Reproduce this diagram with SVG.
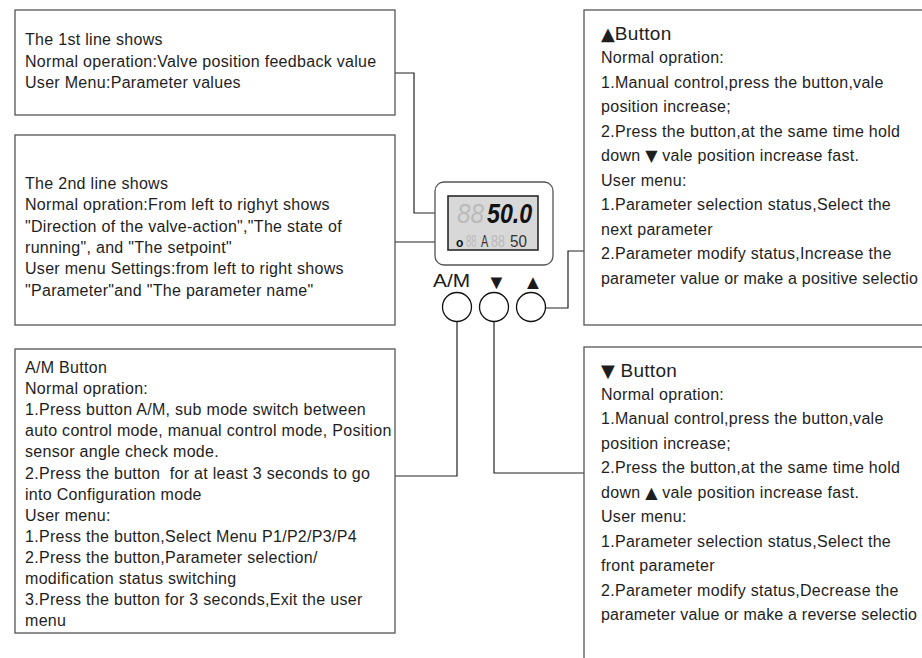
<svg xmlns="http://www.w3.org/2000/svg" width="922" height="658" viewBox="0 0 922 658">
  <style>
    .box{fill:#fff;stroke:#555;stroke-width:1.3}
    .t{font-family:"Liberation Sans",Arial,"DejaVu Sans",sans-serif;font-size:16px;letter-spacing:0.3px;fill:#1e1e1e}
    .h{font-size:19px;letter-spacing:0.3px}
    .sym{font-family:"DejaVu Sans",sans-serif;letter-spacing:0}
    .wire{fill:none;stroke:#222;stroke-width:1.2}
    .btn{fill:#fff;stroke:#111;stroke-width:1.3}
    .lbl{font-family:"Liberation Sans",Arial,"DejaVu Sans",sans-serif;fill:#1a1a1a}
    .seg{font-family:"Liberation Sans",Arial,sans-serif}
    .off{fill:#bababa}
    .on{fill:#111}
    .dim{fill:#333}
  </style>

  <rect width="922" height="658" fill="#fff"/>

  <!-- connectors -->
  <g id="connectors" class="wire">
    <polyline points="395,73 414,73 414,213 435,213"/>
    <line x1="395" y1="242" x2="435" y2="242"/>
    <polyline points="545.5,308 568,308 568,251 584,251"/>
    <polyline points="457,321.5 457,476 395,476"/>
    <polyline points="494,321.5 494,473 584,473"/>
  </g>

  <!-- first display line -->
  <g id="line1-note">
    <rect class="box" x="15" y="10" width="380" height="105"/>
    <text class="t">
      <tspan x="25" y="45">The 1st line shows</tspan>
      <tspan x="25" y="66.5">Normal operation:Valve position feedback value</tspan>
      <tspan x="25" y="88">User Menu:Parameter values</tspan>
    </text>
  </g>

  <!-- second display line -->
  <g id="line2-note">
    <rect class="box" x="15" y="135" width="380" height="190"/>
    <text class="t">
      <tspan x="25" y="189">The 2nd line shows</tspan>
      <tspan x="25" y="210.3">Normal opration:From left to righyt shows</tspan>
      <tspan x="25" y="231.6">"Direction of the valve-action","The state of</tspan>
      <tspan x="25" y="252.9">running", and "The setpoint"</tspan>
      <tspan x="25" y="274.2">User menu Settings:from left to right shows</tspan>
      <tspan x="25" y="295.5">"Parameter"and "The parameter name"</tspan>
    </text>
  </g>

  <!-- A/M button description -->
  <g id="am-note">
    <rect class="box" x="15" y="349" width="380" height="284"/>
    <text class="t">
      <tspan x="25" y="373">A/M Button</tspan>
      <tspan x="25" y="394.1">Normal opration:</tspan>
      <tspan x="25" y="415.2">1.Press button A/M, sub mode switch between</tspan>
      <tspan x="25" y="436.3">auto control mode, manual control mode, Position</tspan>
      <tspan x="25" y="457.4">sensor angle check mode.</tspan>
      <tspan x="25" y="478.5">2.Press the button&#160; for at least 3 seconds to go</tspan>
      <tspan x="25" y="499.6">into Configuration mode</tspan>
      <tspan x="25" y="520.7">User menu:</tspan>
      <tspan x="25" y="541.8">1.Press the button,Select Menu P1/P2/P3/P4</tspan>
      <tspan x="25" y="562.9">2.Press the button,Parameter selection/</tspan>
      <tspan x="25" y="584">modification status switching</tspan>
      <tspan x="25" y="605.1">3.Press the button for 3 seconds,Exit the user</tspan>
      <tspan x="25" y="626.2">menu</tspan>
    </text>
  </g>

  <!-- up button description -->
  <g id="up-note">
    <rect class="box" x="584" y="10" width="350" height="315"/>
    <text class="t">
      <tspan class="h" x="601" y="40"><tspan class="sym" font-size="18">▲</tspan>Button</tspan>
      <tspan x="601" y="63">Normal opration:</tspan>
      <tspan x="601" y="87.5">1.Manual control,press the button,vale</tspan>
      <tspan x="601" y="112">position increase;</tspan>
      <tspan x="601" y="136.5">2.Press the button,at the same time hold</tspan>
      <tspan x="601" y="161">down <tspan class="sym" font-size="16">▼</tspan> vale position increase fast.</tspan>
      <tspan x="601" y="185.5">User menu:</tspan>
      <tspan x="601" y="210">1.Parameter selection status,Select the</tspan>
      <tspan x="601" y="234.5">next parameter</tspan>
      <tspan x="601" y="259">2.Parameter modify status,Increase the</tspan>
      <tspan x="601" y="283.5" letter-spacing="0.2">parameter value or make a positive selectio</tspan>
    </text>
  </g>

  <!-- down button description -->
  <g id="down-note">
    <rect class="box" x="584" y="347" width="350" height="330"/>
    <text class="t">
      <tspan class="h" x="601" y="377"><tspan class="sym" font-size="18">▼</tspan> Button</tspan>
      <tspan x="601" y="399.5">Normal opration:</tspan>
      <tspan x="601" y="424">1.Manual control,press the button,vale</tspan>
      <tspan x="601" y="448.5">position increase;</tspan>
      <tspan x="601" y="473">2.Press the button,at the same time hold</tspan>
      <tspan x="601" y="497.5">down <tspan class="sym" font-size="16">▲</tspan> vale position increase fast.</tspan>
      <tspan x="601" y="522">User menu:</tspan>
      <tspan x="601" y="546.5">1.Parameter selection status,Select the</tspan>
      <tspan x="601" y="571">front parameter</tspan>
      <tspan x="601" y="595.5">2.Parameter modify status,Decrease the</tspan>
      <tspan x="601" y="620" letter-spacing="0.2">parameter value or make a reverse selectio</tspan>
    </text>
  </g>

  <!-- LCD display unit -->
  <g id="display">
    <rect x="435" y="182" width="118" height="83" rx="9" fill="#fff" stroke="#555" stroke-width="1.3"/>
    <rect x="448" y="196" width="90" height="54" fill="#d8d8d8" stroke="#2a2a2a" stroke-width="1.6"/>
    <!-- upper row: unlit digits, then the lit reading (condensed by scaling) -->
    <text class="seg off" font-size="28" font-style="italic" transform="translate(457,223) scale(0.87,1)">88</text>
    <text class="seg on" font-size="28" font-weight="bold" font-style="italic" transform="translate(487,223) scale(0.83,1)">50.0</text>
    <!-- lower row: direction, state and setpoint segments -->
    <text class="seg on" font-size="12" font-weight="bold" transform="translate(456,246.5)">o</text>
    <text class="seg off" font-size="16" transform="translate(466,247) scale(0.6,1)">88</text>
    <text class="seg dim" font-size="16" transform="translate(481,247) scale(0.68,1)">A</text>
    <text class="seg off" font-size="16" transform="translate(491,247) scale(0.78,1)">88</text>
    <text class="seg dim" font-size="16" transform="translate(510,247) scale(0.95,1)">50</text>
  </g>

  <!-- push buttons -->
  <g id="btn-am">
    <text class="lbl" x="433" y="287" font-size="19" textLength="37" lengthAdjust="spacingAndGlyphs">A/M</text>
    <circle class="btn" cx="457" cy="307" r="14.5"/>
  </g>
  <g id="btn-down">
    <text class="lbl sym" x="486.5" y="289" font-size="20">▼</text>
    <circle class="btn" cx="494" cy="307" r="14.5"/>
  </g>
  <g id="btn-up">
    <text class="lbl sym" x="523" y="289" font-size="20">▲</text>
    <circle class="btn" cx="531" cy="307" r="14.5"/>
  </g>
</svg>
